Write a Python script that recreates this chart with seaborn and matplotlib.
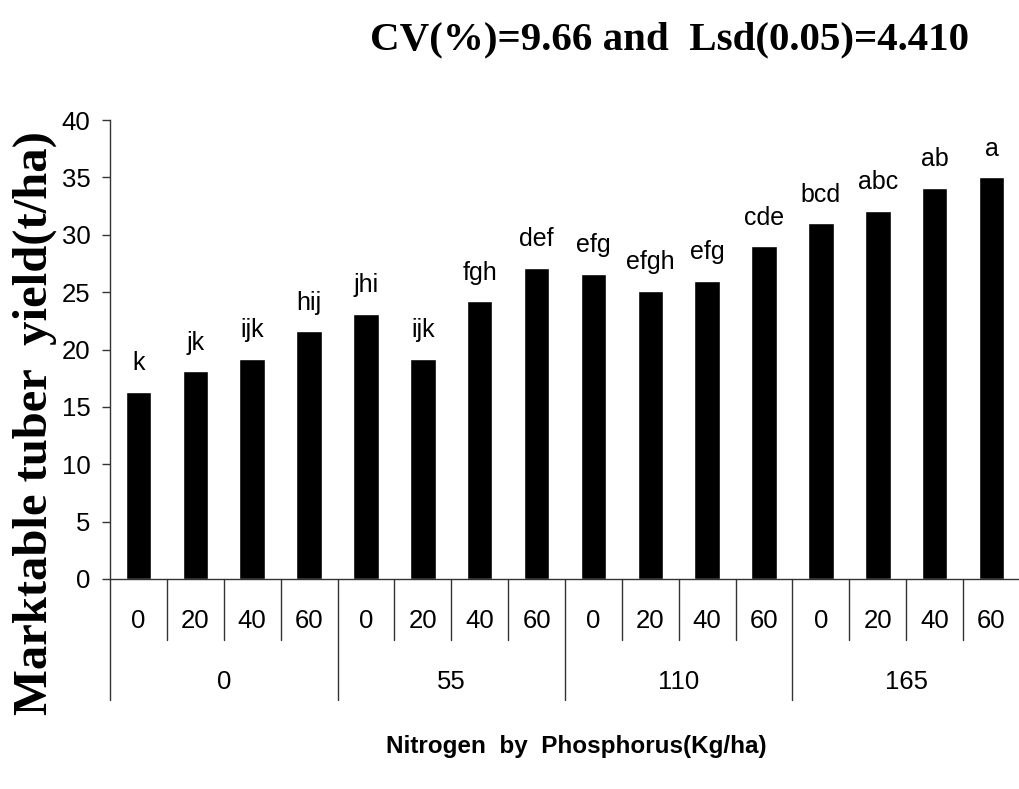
import pandas as pd
import numpy as np
import matplotlib
matplotlib.use("Agg")
import matplotlib.pyplot as plt
import seaborn as sns

# data
nitrogen = ["0", "55", "110", "165"]
phosphorus = ["0", "20", "40", "60"]
yield_t_ha = [16.3, 18.1, 19.2, 21.6,
              23.1, 19.2, 24.2, 27.1,
              26.6, 25.1, 26.0, 29.0,
              31.0, 32.1, 34.1, 35.0]
letters = ["k", "jk", "ijk", "hij",
           "jhi", "ijk", "fgh", "def",
           "efg", "efgh", "efg", "cde",
           "bcd", "abc", "ab", "a"]

df = pd.DataFrame({
    "N": np.repeat(nitrogen, len(phosphorus)),
    "P": phosphorus * len(nitrogen),
    "yield": yield_t_ha,
    "letter": letters,
})
df["combo"] = df["N"] + "_" + df["P"]

sns.set_style("white")
plt.rcParams["font.family"] = ["Liberation Sans", "DejaVu Sans"]
plt.rcParams["text.color"] = "black"
plt.rcParams["ytick.color"] = "black"

fig = plt.figure(figsize=(10.2, 7.89), dpi=100)
W, H = 1020, 789
ax = fig.add_axes([110 / W, 1 - 579 / H, 910 / W, 459 / H])

sns.barplot(data=df, x="combo", y="yield", order=df["combo"], color="black",
            width=0.45, saturation=1, ax=ax, errorbar=None)

ax.set_xlim(-0.5, len(df) - 0.5)
ax.set_ylim(0, 40)
ax.set_yticks(np.arange(0, 41, 5))
ax.tick_params(axis="y", direction="out", length=6, width=1, pad=8,
               labelsize=18.5, color="#333333", labelcolor="black", left=True)
ax.set_xticks([])
ax.set_xlabel("")
ax.set_ylabel("")
for s in ["top", "right"]:
    ax.spines[s].set_visible(False)
for s in ["left", "bottom"]:
    ax.spines[s].set_color("#333333")
    ax.spines[s].set_linewidth(1)

# significance letters above bars
for i, (v, lab) in enumerate(zip(df["yield"], df["letter"])):
    ax.annotate(lab, (i, v), xytext=(0, 15.5), textcoords="offset points",
                ha="center", va="baseline", fontsize=18, color="black")

# two-level category axis
trans = ax.get_xaxis_transform()
inner_len = -61 / 459
outer_len = -121 / 459
n_p = len(phosphorus)
for i, p in enumerate(df["P"]):
    ax.text(i, -42 / 459, p, transform=trans, ha="center", va="center",
            fontsize=18.5, color="black")
for b in range(len(df) + 1):
    depth = outer_len if b % n_p == 0 else inner_len
    ax.plot([b - 0.5, b - 0.5], [0, depth], transform=trans, color="#333333",
            lw=1, clip_on=False)
for g, n in enumerate(nitrogen):
    ax.text(g * n_p + (n_p - 1) / 2, -103 / 459, n, transform=trans,
            ha="center", va="center", fontsize=18.5, color="black")

fig.text(670 / W, 1 - 40 / H, "CV(%)=9.66 and  Lsd(0.05)=4.410",
         ha="center", va="center", fontsize=29.5, fontweight="bold",
         family=["Liberation Serif", "DejaVu Serif"])
fig.text(35 / W, 1 - 423 / H, "Marktable tuber  yield(t/ha)", rotation=90,
         ha="center", va="center", fontsize=35, fontweight="bold",
         family=["Liberation Serif", "DejaVu Serif"])
fig.text(576 / W, 1 - 746 / H, "Nitrogen  by  Phosphorus(Kg/ha)",
         ha="center", va="center", fontsize=17.5, fontweight="bold")

fig.savefig("out.png", dpi=100)
